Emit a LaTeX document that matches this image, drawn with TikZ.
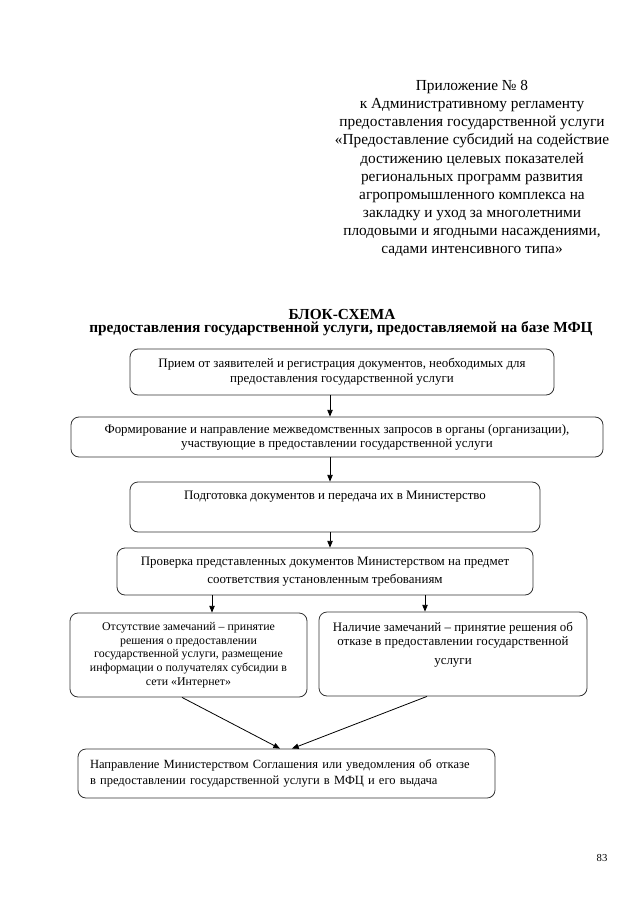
\documentclass[tikz,border=0pt]{standalone}
\usepackage{fontspec}
\setmainfont{Liberation Serif}
\usetikzlibrary{arrows.meta}
\def\pu{0.75pt}
\begin{document}
\begin{tikzpicture}[x=\pu,y=-\pu,
  blk/.style={draw=black!80,line width=0.6pt,rounded corners=6pt,align=center,inner sep=0pt,font=\fontsize{9.7}{10.5}\selectfont},
  arr/.style={-{Triangle[length=5pt,width=4pt]},line width=0.6pt}]
\path[use as bounding box,fill=white] (0,0) rectangle (640,905);
% appendix header
\node[align=center,font=\fontsize{11.5}{13.6}\selectfont] (hdr) at (472,168.5) {Приложение № 8\\
к Административному регламенту\\
предоставления государственной услуги\\
«Предоставление субсидий на содействие\\
достижению целевых показателей\\
региональных программ развития\\
агропромышленного комплекса на\\
закладку и уход за многолетними\\
плодовыми и ягодными насаждениями,\\
садами интенсивного типа»};
% title
\node[font=\fontsize{11.5}{13}\selectfont\bfseries] (ttl) at (342,314) {БЛОК-СХЕМА};
\node[font=\fontsize{11.5}{13}\selectfont\bfseries] (sub) at (341,329) {предоставления государственной услуги, предоставляемой на базе МФЦ};
% steps
\node[blk,font=\fontsize{9.7}{11.25}\selectfont,minimum width=424*\pu,minimum height=46*\pu] (b1) at (342,372) {Прием от заявителей и регистрация документов, необходимых для\\ предоставления государственной услуги};
\node[blk,minimum width=532*\pu,minimum height=40*\pu] (b2) at (337,437) {Формирование и направление межведомственных запросов в органы (организации),\\ участвующие в предоставлении государственной услуги};
\node[blk,minimum width=410*\pu,minimum height=50*\pu,text height=6.5pt,text depth=18.5pt] (b3) at (335,507) {Подготовка документов и передача их в Министерство};
\node[blk,font=\fontsize{9.7}{13.5}\selectfont,minimum width=416*\pu,minimum height=47*\pu] (b4) at (325,571.5) {Проверка представленных документов Министерством на предмет\\ соответствия установленным требованиям};
\node[blk,font=\fontsize{8.9}{10.3}\selectfont,minimum width=237*\pu,minimum height=84*\pu] (lft) at (188.5,655) {Отсутствие замечаний – принятие\\ решения о предоставлении\\ государственной услуги, размещение\\ информации о получателях субсидии в\\ сети «Интернет»};
\node[blk,font=\fontsize{9.7}{10.7}\selectfont,minimum width=268*\pu,minimum height=84*\pu,text depth=15.5pt] (rgt) at (453,654) {Наличие замечаний – принятие решения об\\ отказе в предоставлении государственной\\[3.5pt] услуги};
\node[blk,font=\fontsize{9.4}{12}\selectfont,align=left,inner xsep=12*\pu,text width=393*\pu,minimum height=49*\pu] (b7) at (286.5,773.5) {Направление Министерством Соглашения или уведомления об отказе\\ в предоставлении государственной услуги в МФЦ и его выдача};
\node[font=\fontsize{8}{9}\selectfont] (pg) at (602,858) {83};
% arrows
\coordinate (ax) at (330,0);
\coordinate (al) at (212,0);
\coordinate (ar) at (425,0);
\draw[arr] (ax |- b1.south) -- (ax |- b2.north);
\draw[arr] (ax |- b2.south) -- (ax |- b3.north);
\draw[arr] (ax |- b3.south) -- (ax |- b4.north);
\draw[arr] (al |- b4.south) -- (al |- lft.north);
\draw[arr] (ar |- b4.south) -- (ar |- rgt.north);
\draw[arr] ([xshift=-6.5*\pu]lft.south) -- ([xshift=-6.5*\pu]b7.north);
\draw[arr] ([xshift=-26*\pu]rgt.south) -- ([xshift=5.5*\pu]b7.north);
\end{tikzpicture}
\end{document}
